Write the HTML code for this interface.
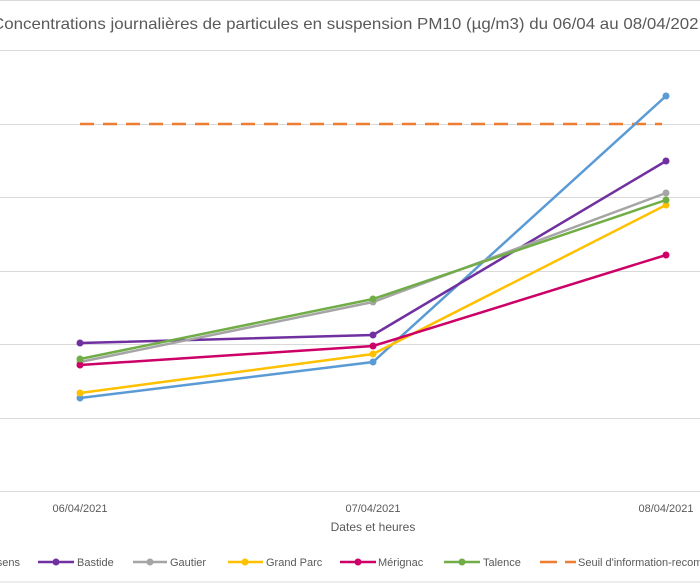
<!DOCTYPE html>
<html><head><meta charset="utf-8"><style>body{margin:0;background:#fff}svg{display:block;font-family:"Liberation Sans",sans-serif}</style></head><body>
<svg width="700" height="583" viewBox="0 0 700 583">
<line x1="0" y1="0.5" x2="700" y2="0.5" stroke="#d9d9d9"/>
<line x1="0" y1="582" x2="700" y2="582" stroke="#d9d9d9"/>
<text x="-8" y="29" font-size="16" fill="#595959" textLength="716" lengthAdjust="spacingAndGlyphs">Concentrations journalières de particules en suspension PM10 (µg/m3) du 06/04 au 08/04/2021</text>
<g stroke="#d9d9d9" stroke-width="1">
<line x1="0" y1="50.5" x2="700" y2="50.5"/><line x1="0" y1="124.5" x2="700" y2="124.5"/><line x1="0" y1="197.5" x2="700" y2="197.5"/><line x1="0" y1="271.5" x2="700" y2="271.5"/><line x1="0" y1="344.5" x2="700" y2="344.5"/><line x1="0" y1="418.5" x2="700" y2="418.5"/><line x1="0" y1="491.5" x2="700" y2="491.5"/>
</g>
<line x1="80" y1="124" x2="662" y2="124" stroke="#ed7d31" stroke-width="2.5" stroke-dasharray="14,9"/>
<g fill="none" stroke-width="2.5">
<polyline points="80,398 373,362 666,96" stroke="#5b9bd5"/>
<polyline points="80,343 373,335 666,161" stroke="#7030a0"/>
<polyline points="80,362 373,302 666,193" stroke="#a5a5a5"/>
<polyline points="80,393 373,354 666,205" stroke="#ffc000"/>
<polyline points="80,365 373,346 666,255" stroke="#cc0066"/>
<polyline points="80,359 373,299 666,200" stroke="#70ad47"/>
</g>
<g fill="#5b9bd5"><circle cx="80" cy="398" r="3.5"/><circle cx="373" cy="362" r="3.5"/><circle cx="666" cy="96" r="3.5"/></g>
<g fill="#7030a0"><circle cx="80" cy="343" r="3.5"/><circle cx="373" cy="335" r="3.5"/><circle cx="666" cy="161" r="3.5"/></g>
<g fill="#a5a5a5"><circle cx="80" cy="362" r="3.5"/><circle cx="373" cy="302" r="3.5"/><circle cx="666" cy="193" r="3.5"/></g>
<g fill="#ffc000"><circle cx="80" cy="393" r="3.5"/><circle cx="373" cy="354" r="3.5"/><circle cx="666" cy="205" r="3.5"/></g>
<g fill="#cc0066"><circle cx="80" cy="365" r="3.5"/><circle cx="373" cy="346" r="3.5"/><circle cx="666" cy="255" r="3.5"/></g>
<g fill="#70ad47"><circle cx="80" cy="359" r="3.5"/><circle cx="373" cy="299" r="3.5"/><circle cx="666" cy="200" r="3.5"/></g>
<g font-size="11" fill="#595959" text-anchor="middle">
<text x="80" y="512">06/04/2021</text><text x="373" y="512">07/04/2021</text><text x="666" y="512">08/04/2021</text>
<text x="373" y="531" font-size="12">Dates et heures</text>
</g>
<g font-size="11" fill="#595959">
<text x="20" y="566" text-anchor="end">sens</text>
<line x1="38" y1="562" x2="74" y2="562" stroke="#7030a0" stroke-width="2.5"/><circle cx="56" cy="562" r="3.5" fill="#7030a0"/><text x="77" y="566">Bastide</text>
<line x1="133" y1="562" x2="167" y2="562" stroke="#a5a5a5" stroke-width="2.5"/><circle cx="150" cy="562" r="3.5" fill="#a5a5a5"/><text x="170" y="566">Gautier</text>
<line x1="228" y1="562" x2="263" y2="562" stroke="#ffc000" stroke-width="2.5"/><circle cx="245" cy="562" r="3.5" fill="#ffc000"/><text x="266" y="566">Grand Parc</text>
<line x1="340" y1="562" x2="376" y2="562" stroke="#cc0066" stroke-width="2.5"/><circle cx="358" cy="562" r="3.5" fill="#cc0066"/><text x="378" y="566">Mérignac</text>
<line x1="444" y1="562" x2="480" y2="562" stroke="#70ad47" stroke-width="2.5"/><circle cx="462" cy="562" r="3.5" fill="#70ad47"/><text x="483" y="566">Talence</text>
<line x1="540" y1="562" x2="576" y2="562" stroke="#ed7d31" stroke-width="2.5" stroke-dasharray="17,8"/><text x="578" y="566">Seuil d'information-recommandation</text>
</g>
</svg>
</body></html>
